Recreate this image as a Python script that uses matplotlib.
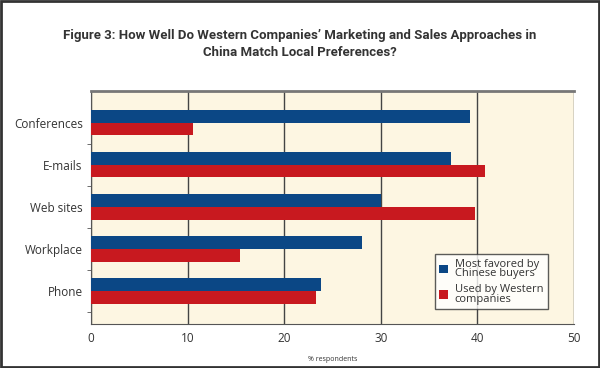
import matplotlib.pyplot as plt
import numpy as np
from matplotlib.patches import Rectangle

categories = ['Conferences', 'E-mails', 'Web sites', 'Workplace', 'Phone']
chinese_buyers = [39.2, 37.3, 30.0, 28.1, 23.8]
western_companies = [10.6, 40.8, 39.7, 15.4, 23.3]

BLUE = '#0b4785'
RED = '#c8191f'

plt.rcParams['font.family'] = ['Open Sans', 'DejaVu Sans']

fig = plt.figure(figsize=(6, 3.68), dpi=100)
fig.patch.set_facecolor('white')
fig.patches.append(Rectangle((0.002, 0.003), 0.996, 0.994, transform=fig.transFigure,
                             fill=False, edgecolor='#333333', linewidth=2))

ax = fig.add_axes([0.1517, 0.1196, 0.805, 0.633])
ax.set_facecolor('#fdf6e2')

y = np.arange(len(categories))
h = 0.3
ax.barh(y - h / 2, chinese_buyers, height=h, color=BLUE, label='Most favored by\nChinese buyers', zorder=3)
ax.barh(y + h / 2, western_companies, height=h, color=RED, label='Used by Western\ncompanies', zorder=3)

ax.set_xlim(0, 50)
ax.set_ylim(4.78, -0.75)
ax.set_xticks([0, 10, 20, 30, 40, 50])
ax.tick_params(axis='x', length=0, labelsize=8.5, colors='#333333', pad=6)
ax.set_yticks(y)
ax.set_yticklabels(categories, fontsize=8.5, color='#333333')
ax.tick_params(axis='y', length=0, pad=6)
ax.set_yticks(np.arange(-0.5, 5.0, 1.0)[1:], minor=True)
ax.tick_params(axis='y', which='minor', length=3, color='#555555', direction='out')

ax.grid(axis='x', color='#444444', linewidth=1, zorder=1)
ax.spines['right'].set_visible(False)
ax.spines['top'].set_color('#777777')
ax.spines['top'].set_linewidth(2)
ax.spines['left'].set_color('#555555')
ax.spines['bottom'].set_color('#555555')

ax.set_xlabel('% respondents', fontsize=5, color='#333333', labelpad=8)

leg = ax.legend(loc='lower right', bbox_to_anchor=(0.957, 0.04), fontsize=8, frameon=True,
                fancybox=False, handlelength=0.8, handleheight=0.8, handletextpad=0.6,
                labelspacing=0.4, borderpad=0.4)
leg.get_frame().set_edgecolor('#333333')
leg.get_frame().set_linewidth(1)
for t in leg.get_texts():
    t.set_linespacing(0.85)
    t.set_color('#333333')

fig.text(0.5, 0.88, 'Figure 3: How Well Do Western Companies\u2019 Marketing and Sales Approaches in\nChina Match Local Preferences?',
         ha='center', va='center', fontsize=9.5, fontweight='bold', color='#333333',
         fontfamily=['Roboto', 'DejaVu Sans'], linespacing=1.35)

fig.savefig('out.png', dpi=100)
